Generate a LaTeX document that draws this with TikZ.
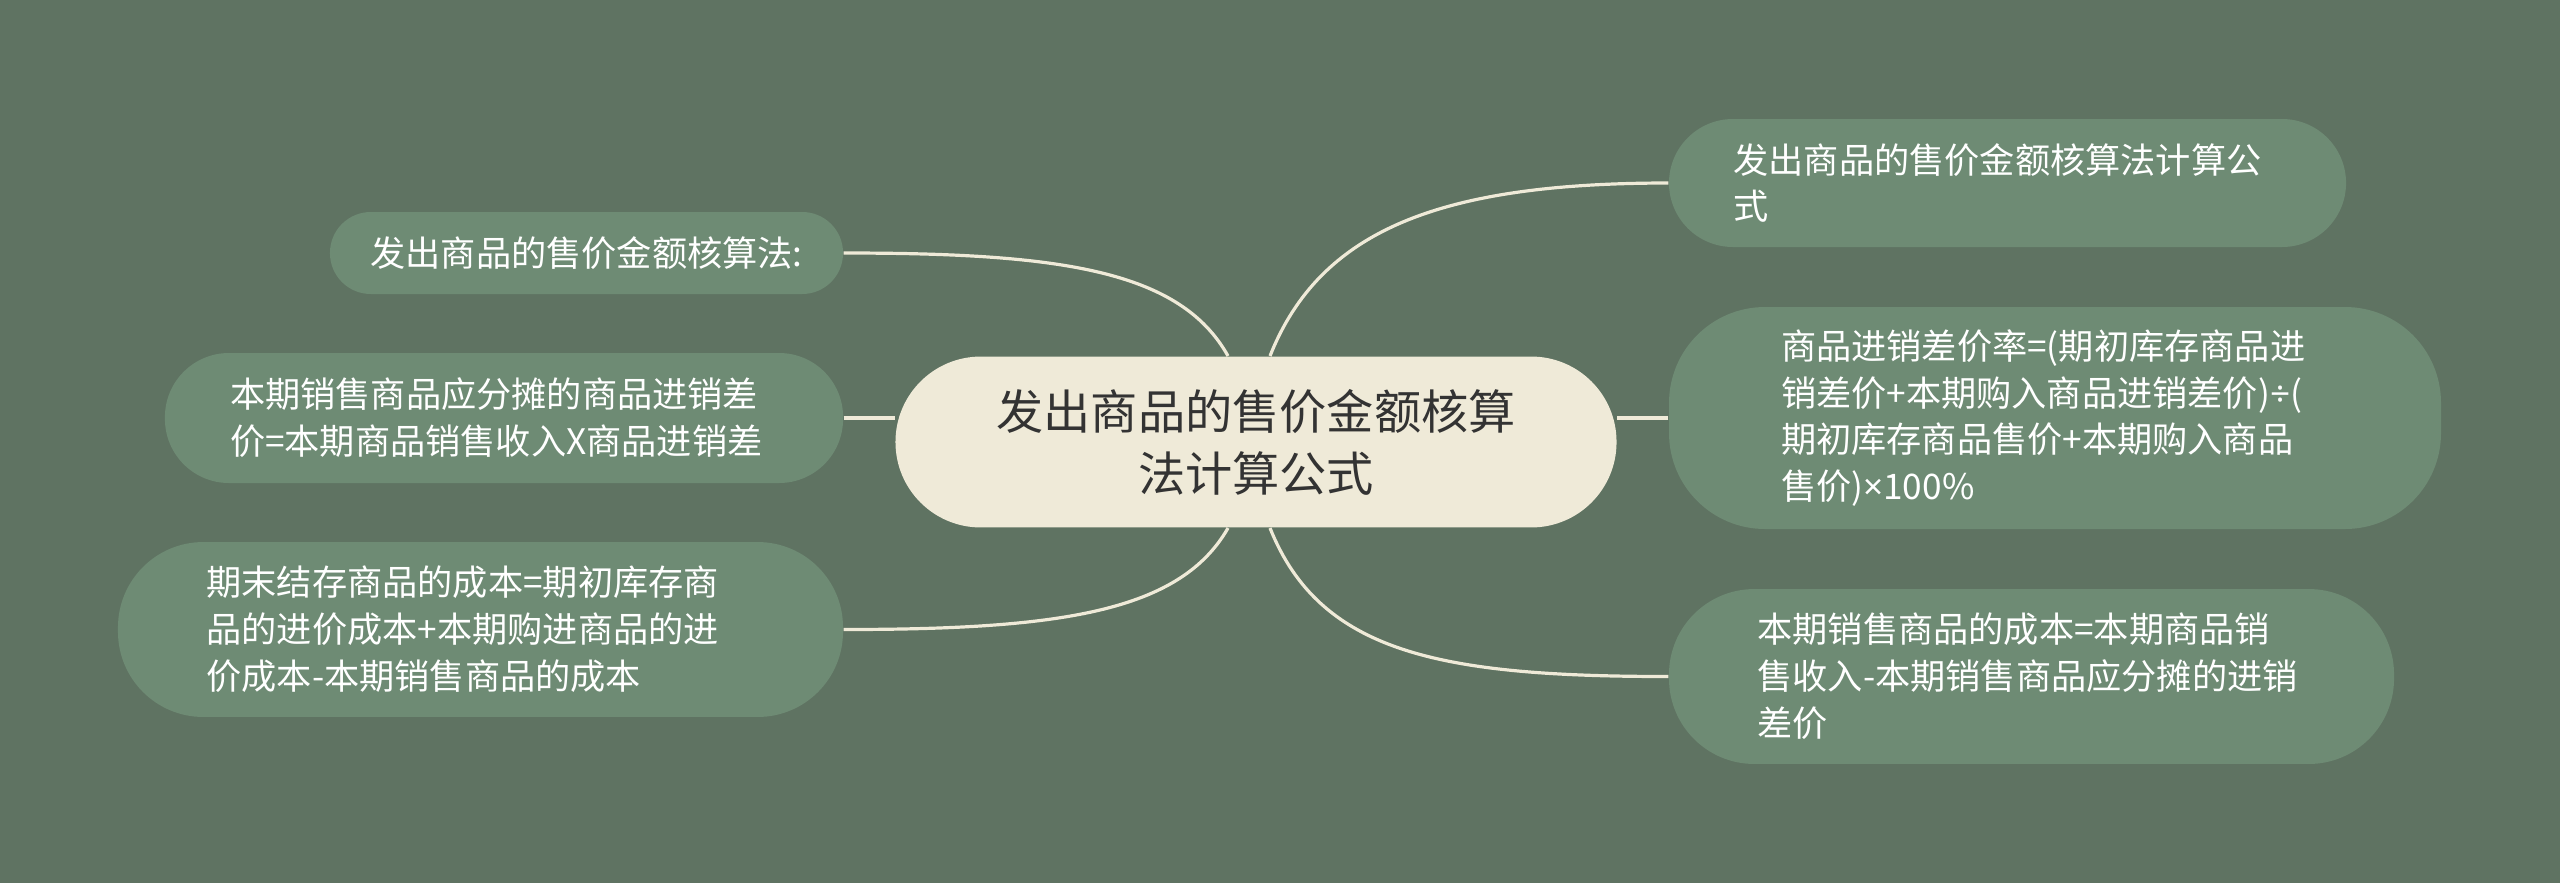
\documentclass[tikz,border=0pt]{standalone}
\usepackage{fontspec}
\setmainfont{Noto Sans CJK SC}
\newfontfamily\latinsym{Noto Sans}
\definecolor{bg}{HTML}{5F7362}
\definecolor{leaffill}{HTML}{6E8B74}
\definecolor{cream}{HTML}{EFEAD8}
\definecolor{ctext}{HTML}{333333}
\begin{document}
\begin{tikzpicture}[x=0.375pt,y=-0.375pt,
  leaf/.style={fill=leaffill, text=white, font=\fontsize{13.2}{17.6}\selectfont, inner ysep=0pt},
  para/.style={align=left, text width=205.5pt},
  edge/.style={draw=cream, line width=1.2pt}]
\fill[bg] (0,0) rectangle (2560,883);
\useasboundingbox (0,0) rectangle (2560,883);

\node[fill=cream, text=ctext, font=\fontsize{17.7}{23.2}\selectfont, align=center,
  minimum width=270.4pt, minimum height=64.1pt, rounded corners=32pt, inner sep=0pt]
  (c) at (1256,442) {发出商品的售价金额核算\\法计算公式};

\node[leaf, para, inner xsep=24.2pt, minimum height=48pt, rounded corners=24pt]
  (r1) at (2007.5,183) {发出商品的售价金额核算法计算公\\式};
\node[leaf, para, inner xsep=42pt, minimum height=83.25pt, rounded corners=36pt]
  (r2) at (2055,418) {商品进销差价率=(期初库存商品进\\销差价+本期购入商品进销差价){\latinsym ÷}(\\期初库存商品售价+本期购入商品\\售价){\latinsym ×}100\%};
\node[leaf, para, inner xsep=33.2pt, minimum height=65.6pt, rounded corners=32pt]
  (r3) at (2031.5,676.5) {本期销售商品的成本=本期商品销\\售收入-本期销售商品应分摊的进销\\差价};

\node[leaf, align=center, minimum width=192.4pt, inner xsep=0pt, minimum height=30.75pt, rounded corners=15.3pt]
  (l1) at (586.5,253) {发出商品的售价金额核算法:};
\node[leaf, para, inner xsep=24.4pt, minimum height=48.75pt, rounded corners=24pt]
  (l2) at (504,418) {本期销售商品应分摊的商品进销差\\价=本期商品销售收入X商品进销差};
\node[leaf, para, inner xsep=33.2pt, minimum height=65.6pt, rounded corners=32pt]
  (l3) at (480.5,629.5) {期末结存商品的成本=期初库存商\\品的进价成本+本期购进商品的进\\价成本-本期销售商品的成本};

\draw[edge] ([xshift=5.25pt]c.north) .. controls (1320,230) and (1440,183) .. (r1.west);
\draw[edge] ([xshift=5.25pt]c.south) .. controls (1320,653) and (1440,676.5) .. (r3.west);
\draw[edge] ([xshift=-10.5pt]c.north) .. controls (1180,270) and (1060,253) .. (l1.east);
\draw[edge] ([xshift=-10.5pt]c.south) .. controls (1180,612) and (1060,629.5) .. (l3.east);
\draw[edge] (l2.east) -- (l2.east -| c.west);
\draw[edge] (r2.west) -- (r2.west -| c.east);
\end{tikzpicture}
\end{document}
